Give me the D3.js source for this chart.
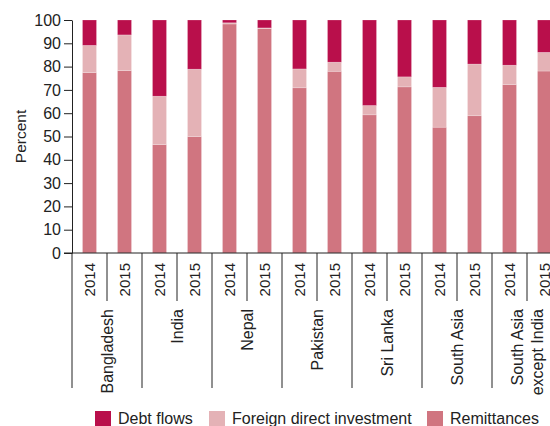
<!DOCTYPE html>
<html lang="en">
<head>
<meta charset="UTF-8">
<title>Financial flows, South Asia</title>
<script src="https://cdn.jsdelivr.net/npm/d3@7"></script>
<style>
  body { margin: 0; background: #fff; }
  text { font-family: "Liberation Sans", Arial, Helvetica, sans-serif; fill: #222; }
</style>
</head>
<body>
<div id="chart"></div>
<script>
// data (percent of total)
var countries = ["Bangladesh", "India", "Nepal", "Pakistan", "Sri Lanka", "South Asia", "South Asia except India"];
var years = ["2014", "2015"];
var remittances = [77.4, 78.3, 46.5, 50.0, 98.3, 96.4, 70.9, 78.0, 59.3, 71.3, 54.0, 58.9, 72.3, 78.1];
var fdi         = [11.7, 15.3, 20.8, 28.9, 0.5, 0.2, 8.1, 3.9, 4.0, 4.3, 17.1, 22.2, 8.3, 8.0];
var debt        = [10.9, 6.4, 32.7, 21.1, 1.2, 3.4, 21.0, 18.1, 36.7, 24.4, 28.9, 18.9, 19.4, 13.9];
var yTicks = [0, 10, 20, 30, 40, 50, 60, 70, 80, 90, 100];

var seriesKeys = ["remittances", "fdi", "debt"];
var seriesNames = {debt: "Debt flows", fdi: "Foreign direct investment", remittances: "Remittances"};
var colors = {debt: "#b90f4b", fdi: "#e4b2b6", remittances: "#d07580"};

var rows = [];
countries.forEach(function(c, ci) {
  years.forEach(function(y, yi) {
    var i = ci * 2 + yi;
    rows.push({key: c + "|" + y, country: c, year: y,
      remittances: remittances[i], fdi: fdi[i], debt: debt[i]});
  });
});

var width = 550, height = 426;
var svg = d3.select("#chart").append("svg")
  .attr("width", width).attr("height", height);

var x = d3.scaleBand()
  .domain(rows.map(function(d) { return d.key; }))
  .range([72, 562])
  .paddingInner(0.6)
  .paddingOuter(0.3);

var y = d3.scaleLinear().domain([0, 100]).range([253, 20]);

var stack = d3.stack().keys(seriesKeys)(rows);

// bars
svg.selectAll("g.layer")
  .data(stack)
  .enter().append("g")
    .attr("class", "layer")
    .attr("fill", function(s) { return colors[s.key]; })
  .selectAll("rect")
  .data(function(s) { return s; })
  .enter().append("rect")
    .attr("x", function(d) { return x(d.data.key); })
    .attr("y", function(d) { return y(d[1]); })
    .attr("width", x.bandwidth())
    .attr("height", function(d) { return y(d[0]) - y(d[1]); })
    .attr("stroke", "#fff")
    .attr("stroke-opacity", 0.35)
    .attr("stroke-width", 0.6);

// y axis
var yAxis = svg.append("g")
  .attr("transform", "translate(72,0)")
  .call(d3.axisLeft(y).tickValues(yTicks).tickSize(8).tickSizeOuter(0).tickPadding(3));
yAxis.selectAll("text").style("font-size", "16px").style("fill", "#222");
yAxis.selectAll("line, path").attr("stroke", "#222");

svg.append("text")
  .attr("transform", "translate(21," + (y(50)) + ") rotate(-90)")
  .attr("text-anchor", "middle")
  .attr("dy", "0.35em")
  .style("font-size", "15.5px")
  .text("Percent");

// x baseline
svg.append("line")
  .attr("x1", 64).attr("x2", width)
  .attr("y1", y(0)).attr("y2", y(0))
  .attr("stroke", "#222");

var step = x.step();
var half = (step - x.bandwidth()) / 2;

// year dividers and group dividers
rows.forEach(function(d, i) {
  var left = x(d.key) - half;
  svg.append("line")
    .attr("x1", left).attr("x2", left)
    .attr("y1", y(0)).attr("y2", i % 2 === 0 ? 388 : 301)
    .attr("stroke", "#222");
});

// year labels
svg.selectAll("text.year")
  .data(rows)
  .enter().append("text")
    .attr("class", "year")
    .attr("transform", function(d) {
      return "translate(" + (x(d.key) + x.bandwidth() / 2) + ",263) rotate(-90)";
    })
    .attr("text-anchor", "end")
    .attr("dy", "0.35em")
    .style("font-size", "15px")
    .text(function(d) { return d.year; });

// country labels
var countryLines = {"South Asia except India": ["South Asia", "except India"]};
countries.forEach(function(c) {
  var k0 = c + "|" + years[0], k1 = c + "|" + years[1];
  var cx = (x(k0) + x(k1) + x.bandwidth()) / 2;
  var lines = countryLines[c] || [c];
  var t = svg.append("text")
    .attr("transform", "translate(" + cx + ",309) rotate(-90)")
    .attr("text-anchor", "end")
    .style("font-size", "16px");
  lines.forEach(function(l, li) {
    var off = (li - (lines.length - 1) / 2) * 20;
    t.append("tspan")
      .attr("x", 0)
      .attr("y", off)
      .attr("dy", "0.35em")
      .text(l);
  });
});

// legend
var legendItems = ["debt", "fdi", "remittances"];
var legendX = [95, 209, 427];
var lg = svg.append("g");
legendItems.forEach(function(k, i) {
  lg.append("rect")
    .attr("x", legendX[i]).attr("y", 411)
    .attr("width", 16).attr("height", 16)
    .attr("fill", colors[k]);
  lg.append("text")
    .attr("x", legendX[i] + 23).attr("y", 423.5)
    .style("font-size", "16px")
    .text(seriesNames[k]);
});
</script>
</body>
</html>
